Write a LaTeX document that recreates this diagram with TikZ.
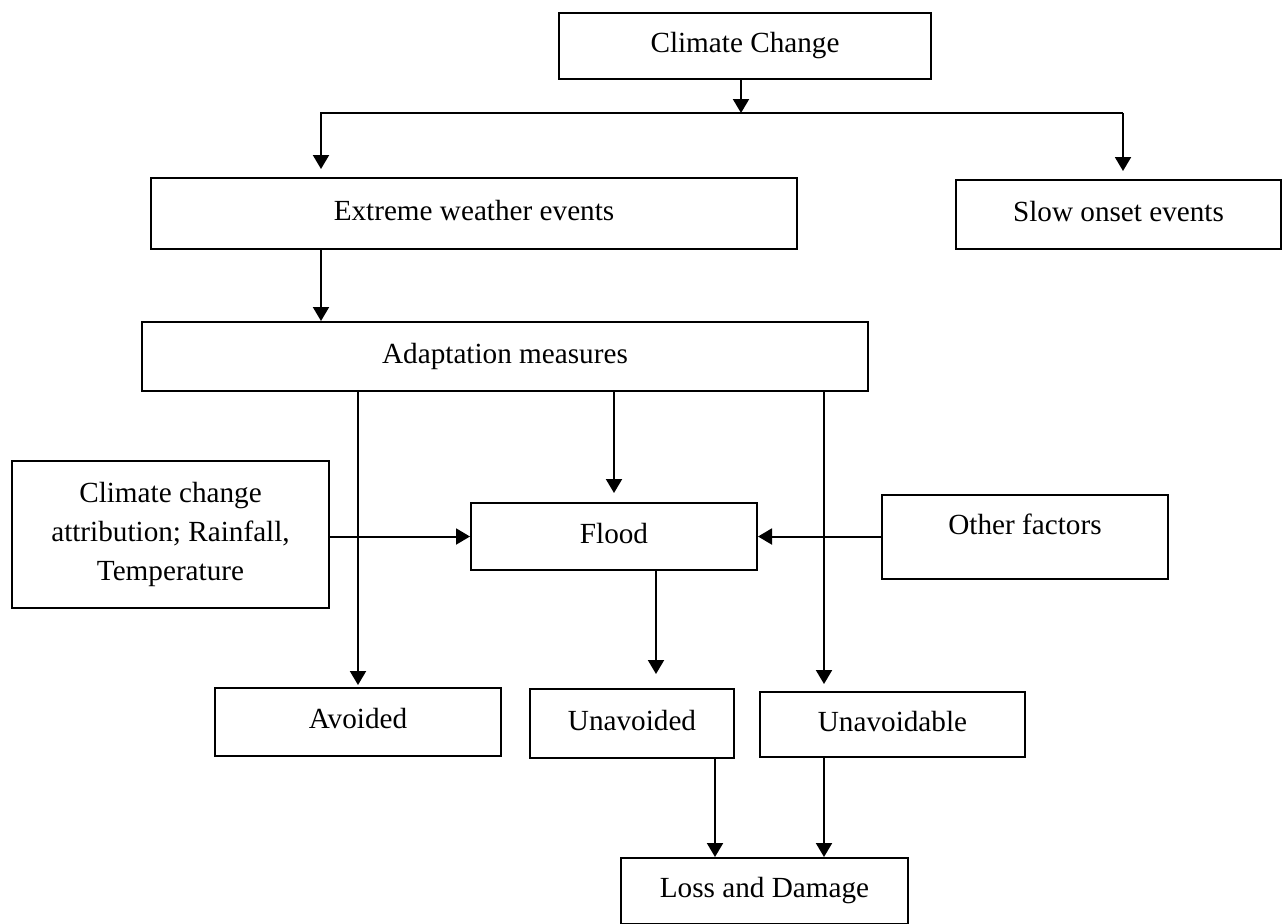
\documentclass[tikz,border=0pt]{standalone}
\usepackage{fontspec}
\setmainfont{Liberation Serif}
\usetikzlibrary{arrows.meta,math}

\tikzset{
    box/.style={draw, line width=1pt, inner sep=0pt, align=center,
        font=\fontsize{14.6pt}{19.5pt}\selectfont},
    onebox/.style={box, text height=10.2pt, text depth=3.7pt},
    arr/.style={line width=1pt, -{Triangle[length=7pt, width=8pt]}},
}

\begin{document}
\begin{tikzpicture}[x=0.5pt, y=-0.5pt]
    \tikzmath{%
        \ybar=113;
        \xbar=741;
        \xleft=321;
        \xright=1123;
        \xmid=656;
        \xunl=715;
        \xunr=824;
    };

    \useasboundingbox (0, 0) rectangle (1284, 923);
    \clip (0, 0) rectangle (1284, 923);

    % boxes
    \node [onebox, minimum width=186pt, minimum height=33pt] (clim) at (745, 46) {Climate Change};
    \node [onebox, minimum width=323pt, minimum height=35.5pt] (extr) at (474, 213.5) {Extreme weather events};
    \node [onebox, minimum width=162.5pt, minimum height=34.5pt] (slow) at (1118.5, 214.5) {Slow onset events};
    \node [onebox, minimum width=363pt, minimum height=34.5pt] (adap) at (505, 356.5) {Adaptation measures};
    \node [box, minimum width=158.5pt, minimum height=73.5pt] (attr) at (170.5, 534.5) {Climate change\\attribution; Rainfall,\\Temperature};
    \node [onebox, minimum width=143pt, minimum height=33.5pt] (flood) at (614, 536.5) {Flood};
    \node [onebox, text depth=13pt, minimum width=143pt, minimum height=42pt] (other) at (1025, 537) {Other factors};
    \node [onebox, minimum width=143pt, minimum height=34pt] (avoid) at (358, 722) {Avoided};
    \node [onebox, minimum width=102pt, minimum height=34.5pt] (unavd) at (632, 723.5) {Unavoided};
    \node [onebox, minimum width=132.5pt, minimum height=32.5pt] (unavb) at (892.5, 724.5) {Unavoidable};
    \node [onebox, minimum width=143.5pt, minimum height=33pt] (loss) at (764.5, 891) {Loss and Damage};

    \coordinate (bar) at (\xbar, \ybar);
    \coordinate (barL) at (\xleft, \ybar);
    \coordinate (barR) at (\xright, \ybar);
    \coordinate (colM) at (\xmid, 0);
    \coordinate (colL) at (\xunl, 0);
    \coordinate (colR) at (\xunr, 0);

    % top split
    \draw [arr] (clim.south -| bar) -- (bar);
    \draw [arr, shorten >=4pt] (barR) -- (barL) -- (barL |- extr.north);
    \draw [arr, shorten >=4pt] (barR) -- (barR |- slow.north);
    \draw [arr] (extr.south -| barL) -- (adap.north -| barL);

    % adaptation
    \draw [arr, shorten >=1pt] (adap.south -| avoid.north) -- (avoid.north);
    \draw [arr, shorten >=4.5pt] (adap.south -| flood.north) -- (flood.north);
    \draw [arr, shorten >=3.5pt] (adap.south -| colR) -- (unavb.north -| colR);

    % flood
    \draw [arr] (attr.east |- flood.west) -- (flood.west);
    \draw [arr] (other.west |- flood.east) -- (flood.east);
    \draw [arr, shorten >=7pt] (flood.south -| colM) -- (unavd.north -| colM);

    % loss and damage
    \draw [arr] (unavd.south -| colL) -- (loss.north -| colL);
    \draw [arr] (unavb.south -| colR) -- (loss.north -| colR);

\end{tikzpicture}
\end{document}
